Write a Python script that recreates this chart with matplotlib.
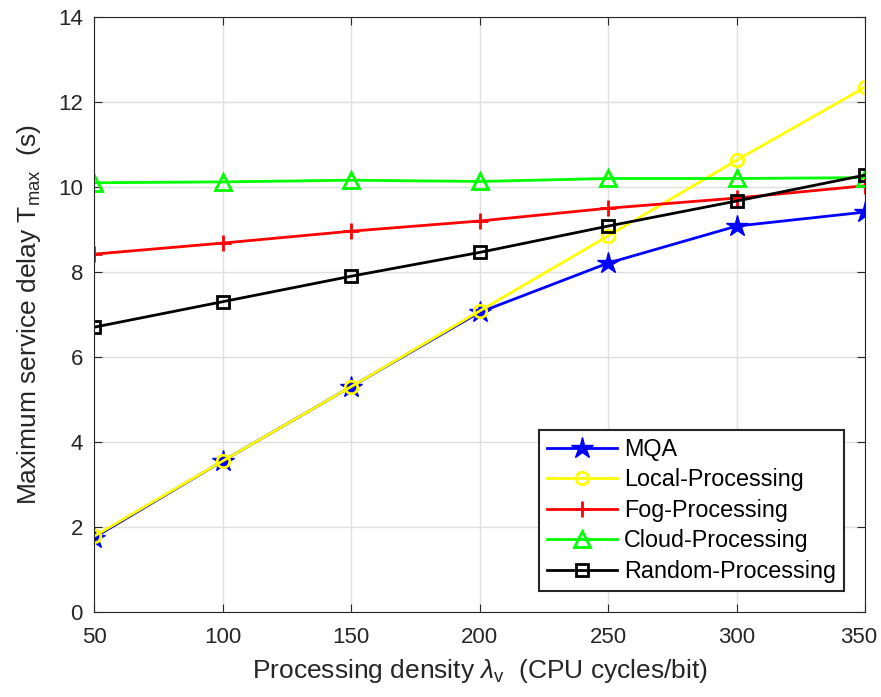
import matplotlib.pyplot as plt
import matplotlib.transforms as mtransforms
import numpy as np

plt.rcParams['font.family'] = ['Liberation Sans', 'DejaVu Sans']
plt.rcParams['mathtext.fontset'] = 'custom'
plt.rcParams['mathtext.rm'] = 'Liberation Sans'
plt.rcParams['mathtext.it'] = 'Liberation Sans:italic'

# Processing density (CPU cycles/bit)
density = [50, 100, 150, 200, 250, 300, 350]

# Maximum service delay (s)
mqa = [1.75, 3.55, 5.3, 7.05, 8.21, 9.08, 9.41]
local = [1.78, 3.55, 5.3, 7.08, 8.85, 10.63, 12.35]
fog = [8.42, 8.68, 8.96, 9.2, 9.5, 9.74, 10.03]
cloud = [10.1, 10.12, 10.16, 10.13, 10.2, 10.2, 10.22]
rnd = [6.7, 7.3, 7.9, 8.46, 9.08, 9.67, 10.28]

fig = plt.figure(figsize=(8.81, 6.97), dpi=100)
ax = fig.add_axes([0.1067, 0.122, 0.8753, 0.8536])

ax.plot(density, mqa, color='#0000ff', lw=2, marker='*', ms=16, label='MQA')
ax.plot(density, local, color='#ffff00', lw=2, marker='o', ms=9, mfc='none', mew=2,
        label='Local-Processing')
ax.plot(density, fog, color='#ff0000', lw=2, marker='+', ms=12, mew=2,
        label='Fog-Processing')
ax.plot(density, cloud, color='#00ff00', lw=2, marker='^', ms=12, mfc='none', mew=2,
        label='Cloud-Processing')
ax.plot(density, rnd, color='#000000', lw=2, marker='s', ms=8, mfc='none', mew=2,
        label='Random-Processing')

ax.set_xlim(50, 350)
ax.set_ylim(0, 14)
ax.set_xticks(np.arange(50, 351, 50))
ax.set_yticks(np.arange(0, 15, 2))
ax.grid(True, color='#e0e0e0', lw=1)
ax.set_axisbelow(True)
ax.tick_params(direction='in', top=True, right=True, labelsize=16, length=6,
               colors='#262626')
ax.tick_params(axis='x', pad=11)
ax.tick_params(axis='y', pad=8)
for s in ax.spines.values():
    s.set_color('#262626')

# keep the last x tick label inside the figure, like MATLAB does
fig.canvas.draw()
last = ax.get_xticklabels()[-1]
last.set_transform(last.get_transform() +
                   mtransforms.ScaledTranslation(-6 / 100, 0, fig.dpi_scale_trans))

ax.set_xlabel(r'Processing density $\lambda_{\rm v}$  (CPU cycles/bit)', fontsize=19,
              color='#262626', labelpad=6)
ax.set_ylabel(r'Maximum service delay T$_{\rm max}$  (s)', fontsize=19,
              color='#262626', labelpad=11)

leg = ax.legend(loc='lower right', fontsize=16.8, fancybox=False, edgecolor='#262626',
                framealpha=1, borderpad=0.35, labelspacing=0.32, handlelength=3.0,
                handletextpad=0.3, borderaxespad=0.9)
leg.get_frame().set_linewidth(1.5)

fig.savefig('out.png', dpi=100)
